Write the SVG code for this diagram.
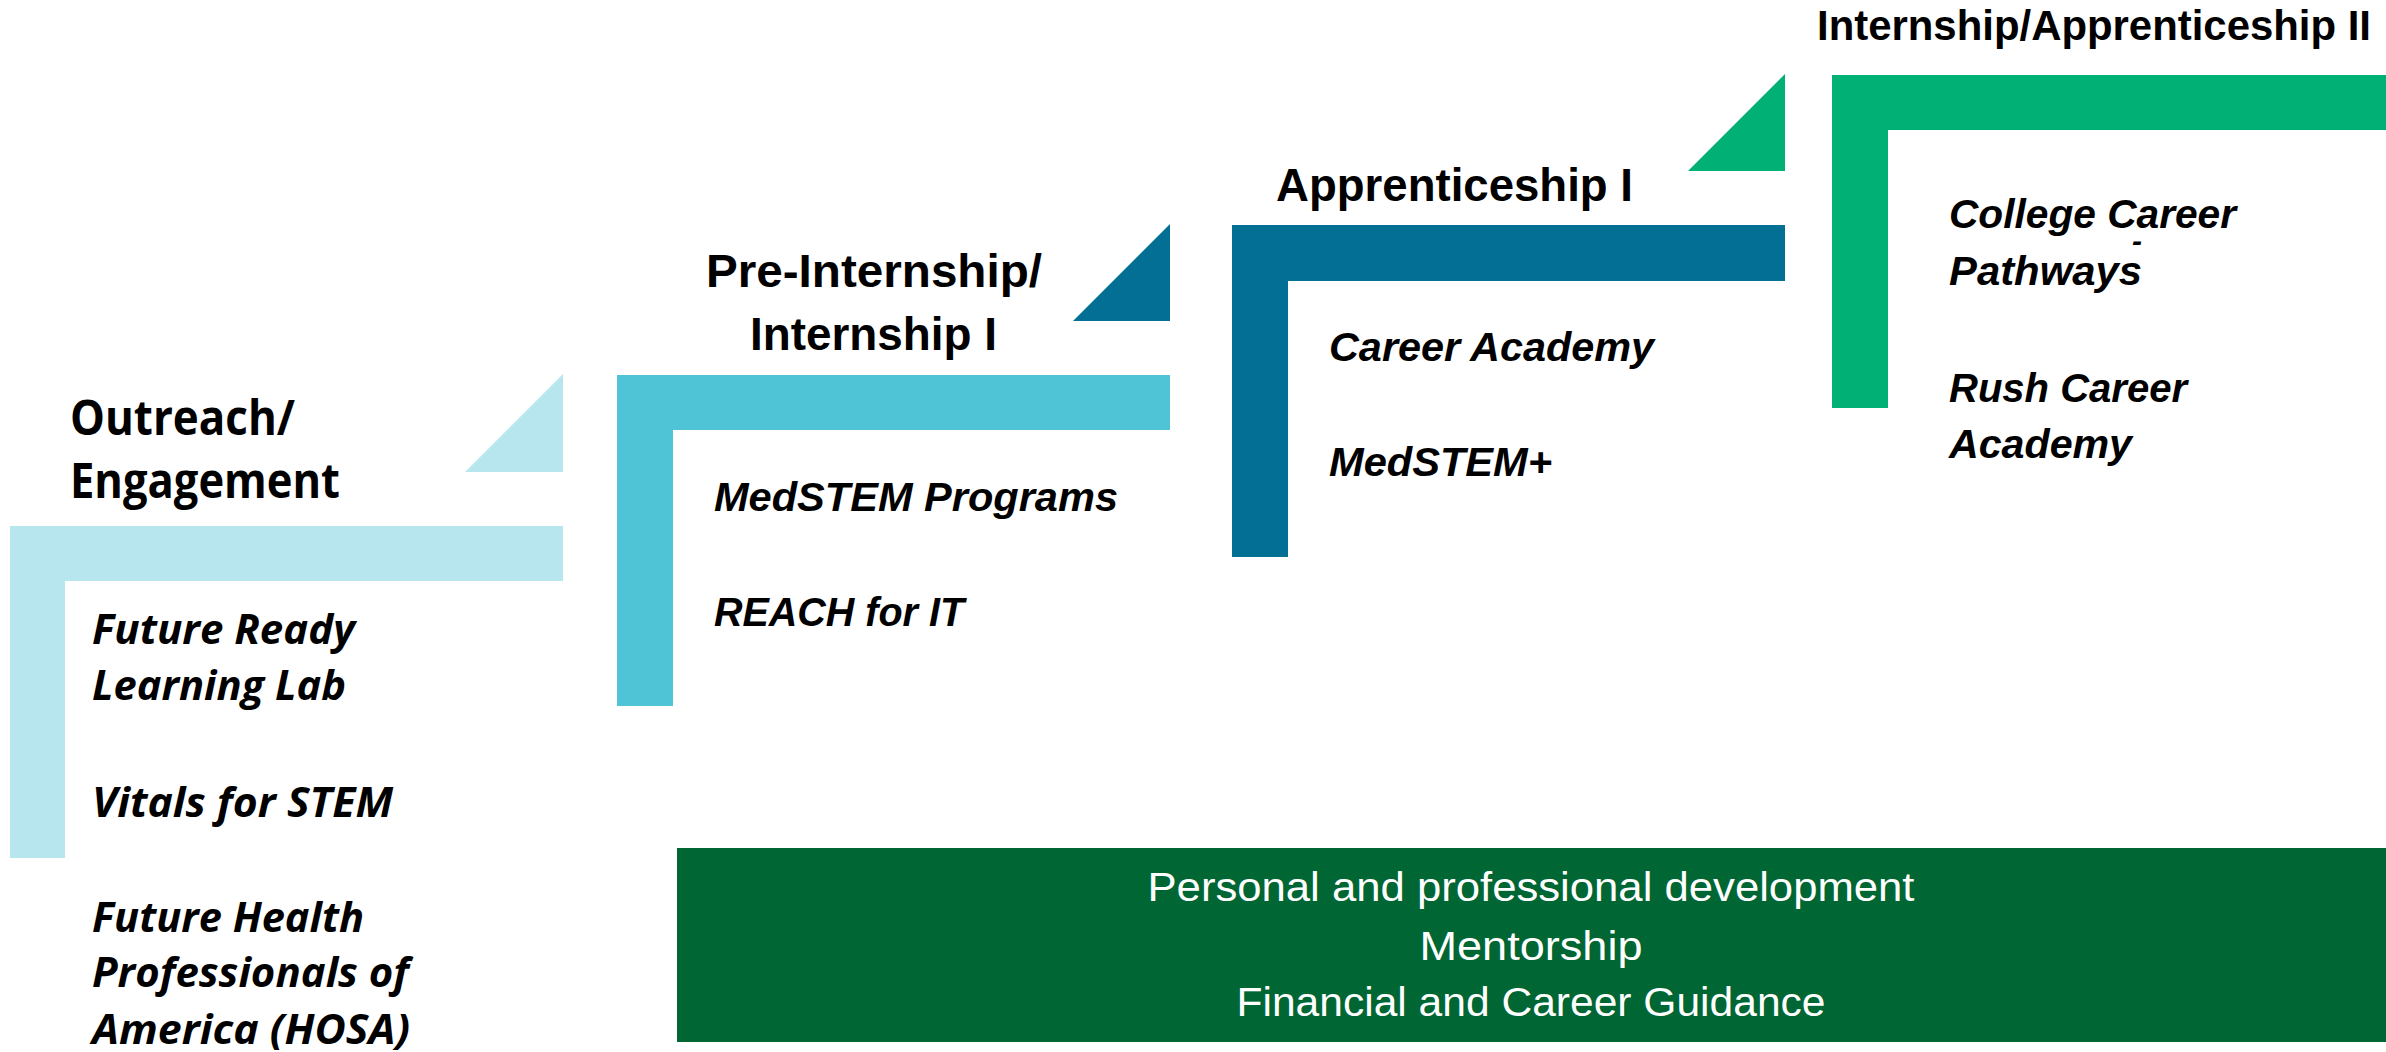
<svg xmlns="http://www.w3.org/2000/svg" width="2386" height="1052" viewBox="0 0 2386 1052">
<style>
.t1{font-family:"Open Sans","DejaVu Sans",sans-serif;font-weight:700;font-size:48px;fill:#000}
.i1{font-family:"Open Sans","DejaVu Sans",sans-serif;font-weight:700;font-style:italic;font-size:42px;fill:#000}
.tt{font-family:"Liberation Sans","Arial",sans-serif;font-weight:700;font-size:46px;fill:#000}
.it{font-family:"Liberation Sans","Arial",sans-serif;font-weight:700;font-style:italic;font-size:40px;fill:#000}
.bt{font-family:"Liberation Sans","Arial",sans-serif;font-size:40px;fill:#fff;text-anchor:middle}
.c1{fill:#B7E6EE}
.c2{fill:#4FC4D6}
.c3{fill:#046F94}
.c4{fill:#00B074}
</style>
<rect width="2386" height="1052" fill="#fff"/>
<g id="step-outreach">
<polygon class="c1" points="10,526 563,526 563,581 65,581 65,858 10,858"/>
<polygon class="c1" points="465,472 563,472 563,374"/>
<text class="t1" x="70" y="435" textLength="225" lengthAdjust="spacingAndGlyphs">Outreach/</text>
<text class="t1" x="70" y="498" textLength="270" lengthAdjust="spacingAndGlyphs">Engagement</text>
<text class="i1" x="92" y="644" textLength="263" lengthAdjust="spacingAndGlyphs">Future Ready</text>
<text class="i1" x="92" y="700" textLength="254" lengthAdjust="spacingAndGlyphs">Learning Lab</text>
<text class="i1" x="92" y="817" textLength="301" lengthAdjust="spacingAndGlyphs">Vitals for STEM</text>
<text class="i1" x="92" y="932" textLength="272" lengthAdjust="spacingAndGlyphs">Future Health</text>
<text class="i1" x="92" y="987" textLength="317" lengthAdjust="spacingAndGlyphs">Professionals of</text>
<text class="i1" x="92" y="1044" textLength="318" lengthAdjust="spacingAndGlyphs">America (HOSA)</text>
</g>
<g id="step-preinternship">
<polygon class="c2" points="617,375 1170,375 1170,430 673,430 673,706 617,706"/>
<polygon class="c3" points="1073,321 1170,321 1170,224"/>
<text class="tt" x="706" y="287" textLength="336" lengthAdjust="spacingAndGlyphs">Pre-Internship/</text>
<text class="tt" x="750" y="350" textLength="247" lengthAdjust="spacingAndGlyphs">Internship I</text>
<text class="it" x="714" y="511" textLength="404" lengthAdjust="spacingAndGlyphs">MedSTEM Programs</text>
<text class="it" x="714" y="626" textLength="250" lengthAdjust="spacingAndGlyphs">REACH for IT</text>
</g>
<g id="step-apprenticeship">
<polygon class="c3" points="1232,225 1785,225 1785,281 1288,281 1288,557 1232,557"/>
<polygon class="c4" points="1688,171 1785,171 1785,74"/>
<text class="tt" x="1276" y="201" textLength="357" lengthAdjust="spacingAndGlyphs">Apprenticeship I</text>
<text class="it" x="1329" y="361" textLength="325" lengthAdjust="spacingAndGlyphs">Career Academy</text>
<text class="it" x="1329" y="476" textLength="223" lengthAdjust="spacingAndGlyphs">MedSTEM+</text>
</g>
<g id="step-internship2">
<polygon class="c4" points="1832,75 2386,75 2386,130 1888,130 1888,408 1832,408"/>
<text class="tt" x="1817" y="40" style="font-size:43px" textLength="554" lengthAdjust="spacingAndGlyphs">Internship/Apprenticeship II</text>
<text class="it" x="1949" y="228" textLength="287" lengthAdjust="spacingAndGlyphs">College Career</text>
<text class="it" x="2132" y="251" style="font-size:30px">-</text>
<text class="it" x="1949" y="285" textLength="193" lengthAdjust="spacingAndGlyphs">Pathways</text>
<text class="it" x="1949" y="402" textLength="238" lengthAdjust="spacingAndGlyphs">Rush Career</text>
<text class="it" x="1949" y="458" textLength="183" lengthAdjust="spacingAndGlyphs">Academy</text>
</g>
<g id="support-box">
<rect x="677" y="848" width="1709" height="194" fill="#006633"/>
<text class="bt" x="1531" y="901" textLength="767" lengthAdjust="spacingAndGlyphs">Personal and professional development</text>
<text class="bt" x="1531" y="960" textLength="223" lengthAdjust="spacingAndGlyphs">Mentorship</text>
<text class="bt" x="1531" y="1016" textLength="589" lengthAdjust="spacingAndGlyphs">Financial and Career Guidance</text>
</g>
<g id="connectors"/>
</svg>
